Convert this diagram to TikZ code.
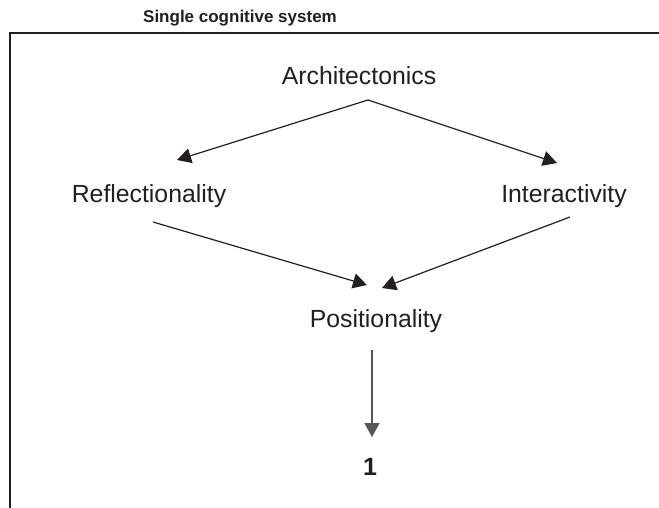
\documentclass[tikz,border=0pt]{standalone}
\usepackage{fontspec}
\setmainfont{Liberation Sans}
\usepackage{xcolor}
\usepackage{tikz}
\usetikzlibrary{arrows.meta, positioning, calc}
\definecolor{inkGrey}{RGB}{35, 31, 32}

\begin{document}
\begin{tikzpicture}[
            x=1pt, y=-1pt,
            % Styles
            concept/.style={
                inner sep=0pt,
                anchor=base,
                text=inkGrey,
                font=\fontsize{24.8}{28}\selectfont
            },
            heading/.style={
                inner sep=0pt,
                anchor=base,
                text=inkGrey,
                font=\fontsize{17}{20}\selectfont\bfseries
            },
            result/.style={
                concept,
                font=\fontsize{25}{28}\selectfont\bfseries
            },
            link/.style={
                draw=inkGrey,
                -{Triangle[length=14pt,width=15pt]}, % solid triangle tips
                line width=1.2pt
            },
            frame/.style={
                draw=inkGrey,
                line width=2.2pt
            }
        ]
        \useasboundingbox (0,0) rectangle (659,508);

        % --- Nodes ---
        \node [heading] (title) at (240,23) {Single cognitive system};
        \node [concept] (arch) at (359,85) {Architectonics};
        \node [concept] (refl) at (149,202) {Reflectionality};
        \node [concept] (inter) at (564,202) {Interactivity};
        \node [concept] (posi) at (376,327) {Positionality};
        \node [result] (one) at (370,475) {1};

        % --- Edges ---
        \coordinate (split) at ($(arch.base)+(9,15)$);
        \path [link] (split) -- ($(refl.base)+(28,-42)$);
        \path [link] (split) -- ($(inter.base)+(-7,-39)$);
        \path [link] ($(refl.base)+(4,20)$) -- ($(posi.base)+(-9,-42)$);
        \path [link] ($(inter.base)+(6,15)$) -- ($(posi.base)+(6,-39)$);
        \path [link, draw=inkGrey!75, line width=1.6pt] ($(posi.base)+(-4,23)$) -- ($(one.base)+(2,-38)$);

        % --- Open frame ---
        \draw [frame] (659,33) -- (10,33) -- (10,508);

\end{tikzpicture}
\end{document}
